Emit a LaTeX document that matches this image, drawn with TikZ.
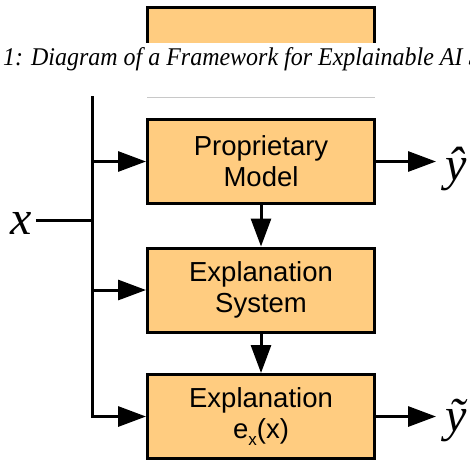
\documentclass[tikz,border=0pt]{standalone}
\usepackage{fontspec}
\setmainfont{Liberation Serif}
\newfontfamily\blockfont{Liberation Sans}
\usepackage{xcolor}
\usepackage{graphicx}
\usetikzlibrary{arrows.meta}
\definecolor{blockfill}{RGB}{255,204,128}
\definecolor{ruleline}{RGB}{200,200,200}

\begin{document}
\begin{tikzpicture}[x=1pt, y=-1pt,
  block/.style={draw, line width=3pt, fill=blockfill, minimum width=227pt, minimum height=84pt, align=center, inner sep=2pt, font=\blockfont\fontsize{27.5}{31}\selectfont},
  sym/.style={inner sep=4pt, font=\itshape\fontsize{48}{48}\selectfont},
  outsym/.style={anchor=base west, inner ysep=0pt, inner xsep=9pt, font=\itshape\fontsize{48}{48}\selectfont},
  wire/.style={line width=3pt},
  arr/.style={line width=3pt, -{Triangle[length=28pt, width=20pt]}}
]
  \path[use as bounding box, clip] (0,0) rectangle (470,459);

  % piece of the box above the caption
  \begin{scope}
    \clip (0,0) rectangle (470,42);
    \draw[line width=3pt, fill=blockfill] (147.5,7.5) rectangle (374.5,90);
  \end{scope}
  \node[anchor=base west, inner sep=0pt, font=\itshape\fontsize{25.5}{25.5}\selectfont] (caption) at (3,65)
    {\scalebox{0.94}[1]{1: Diagram of a Framework for Explainable AI Systems}};
  \draw[ruleline, line width=1pt] (147,97) -- (375,97);

  % blocks
  \node[block] (model)   at (261,161.5) {Proprietary\\Model};
  \node[block] (explsys) at (261,290)   {Explanation\\System};
  \node[block] (expl)    at (261,416.5) {Explanation\\e\raisebox{-7pt}{\fontsize{17}{17}\selectfont x}(x)};

  \node[sym] (inp) at (21,223.5) {x};
  \node[outsym] (yhat)   at (436,180) {\^{y}};
  \node[outsym] (ytilde) at (436,431) {\~{y}};

  \coordinate (top)   at (92,96);
  \coordinate (split) at (92,220);

  \draw[wire] (inp.east |- split) -- (split);
  \draw[wire] (top) -- (split);
  \draw[arr] (split) |- (model.west);
  \draw[arr] (split) |- (explsys.west);
  \draw[arr] (split) |- (expl.west);

  \draw[arr] (model) -- (explsys);
  \draw[arr] (explsys) -- (expl);
  \draw[arr] (model.east) -- (model.east -| yhat.west);
  \draw[arr] (expl.east) -- (expl.east -| ytilde.west);
\end{tikzpicture}
\end{document}
